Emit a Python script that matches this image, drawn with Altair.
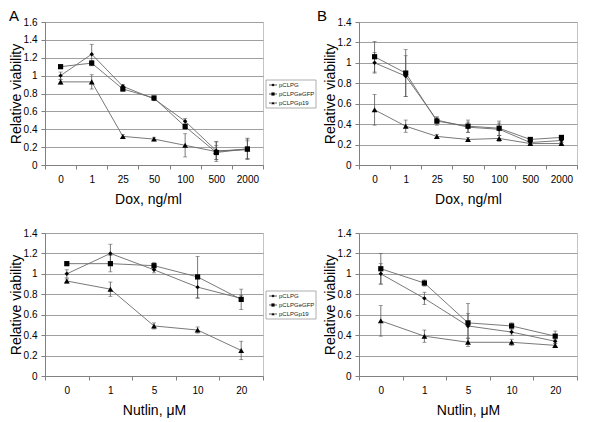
import altair as alt
import pandas as pd

series = ["pCLPG", "pCLPGeGFP", "pCLPGp19"]
shapes = ["diamond", "square", "triangle-up"]
marker_sizes = [20, 34, 30]

dox_doses = ["0", "1", "25", "50", "100", "500", "2000"]
nutlin_doses = ["0", "1", "5", "10", "20"]

yticks_16 = [0, 0.2, 0.4, 0.6, 0.8, 1.0, 1.2, 1.4, 1.6]
yticks_14 = [0, 0.2, 0.4, 0.6, 0.8, 1.0, 1.2, 1.4]

# Panel A (top left): Dox
a_pclpg = [1.00, 1.24, 0.88, 0.74, 0.49, 0.16, 0.17]
a_pclpg_err = [0.04, 0.11, 0.02, 0.02, 0.03, 0.10, 0.10]
a_egfp = [1.10, 1.14, 0.85, 0.75, 0.43, 0.14, 0.18]
a_egfp_err = [0.02, 0.03, 0.02, 0.02, 0.03, 0.08, 0.12]
a_p19 = [0.93, 0.93, 0.32, 0.29, 0.22, 0.15, 0.18]
a_p19_err = [0.025, 0.08, 0.02, 0.02, 0.13, 0.11, 0.11]

# Panel B (top right): Dox
b_pclpg = [1.00, 0.87, 0.44, 0.37, 0.35, 0.22, 0.24]
b_pclpg_err = [0.10, 0.20, 0.03, 0.05, 0.06, 0.02, 0.02]
b_egfp = [1.06, 0.90, 0.43, 0.38, 0.36, 0.25, 0.27]
b_egfp_err = [0.15, 0.23, 0.04, 0.06, 0.07, 0.02, 0.02]
b_p19 = [0.54, 0.38, 0.28, 0.25, 0.26, 0.21, 0.21]
b_p19_err = [0.15, 0.06, 0.02, 0.02, 0.03, 0.01, 0.01]

# Panel C (bottom left): Nutlin
c_pclpg = [1.00, 1.20, 1.04, 0.87, 0.76]
c_pclpg_err = [0.04, 0.09, 0.03, 0.11, 0.03]
c_egfp = [1.10, 1.10, 1.08, 0.97, 0.75]
c_egfp_err = [0.02, 0.08, 0.03, 0.20, 0.10]
c_p19 = [0.93, 0.85, 0.49, 0.45, 0.25]
c_p19_err = [0.02, 0.07, 0.03, 0.03, 0.09]

# Panel D (bottom right): Nutlin
d_pclpg = [1.00, 0.76, 0.49, 0.43, 0.34]
d_pclpg_err = [0.10, 0.06, 0.12, 0.03, 0.02]
d_egfp = [1.05, 0.91, 0.52, 0.49, 0.39]
d_egfp_err = [0.15, 0.03, 0.19, 0.03, 0.05]
d_p19 = [0.54, 0.39, 0.33, 0.33, 0.30]
d_p19_err = [0.15, 0.06, 0.04, 0.03, 0.02]

FONT = "Liberation Sans"
W, H = 218, 143


def make_df(doses, vals, errs):
    rows = []
    for s, v, e in zip(series, vals, errs):
        for i, (d, vv, ee) in enumerate(zip(doses, v, e)):
            rows.append(dict(series=s, dose=d, idx=i, value=vv, lo=vv - ee, hi=vv + ee))
    return pd.DataFrame(rows)


def panel(df, doses, xtitle, ymax, yticks, letter, letter_x, show_legend, xtitle_shift=0):
    xaxis = alt.Axis(labelAngle=0, tickBand="extent", titleX=W / 2 + xtitle_shift,
                     titleY=34, titleBaseline="middle")
    x = alt.X("dose:O", sort=doses, title=xtitle,
              scale=alt.Scale(type="band", paddingInner=0, paddingOuter=0), axis=xaxis)
    yscale = alt.Scale(domain=[0, ymax], nice=False)
    yaxis = alt.Axis(values=yticks, format="~g", titleX=-29, titleBaseline="middle")

    def Y(field):
        return alt.Y(field, title="Relative viability", scale=yscale, axis=yaxis)

    shape = alt.Shape("series:N", scale=alt.Scale(domain=series, range=shapes), legend=None)
    size = alt.Size("series:N", scale=alt.Scale(domain=series, range=marker_sizes), legend=None)

    base = alt.Chart(df)
    err = base.mark_rule(color="#555", strokeWidth=0.8).encode(x=x, y=Y("lo:Q"), y2="hi:Q")
    cap_lo = base.mark_tick(color="#555", size=4, thickness=0.8, orient="horizontal").encode(x=x, y=Y("lo:Q"))
    cap_hi = base.mark_tick(color="#555", size=4, thickness=0.8, orient="horizontal").encode(x=x, y=Y("hi:Q"))
    lines = base.mark_line(color="#6a6a6a", strokeWidth=0.9).encode(
        x=x, y=Y("value:Q"), detail="series:N", order="idx:Q")
    pts = base.mark_point(filled=True, color="black", opacity=1).encode(
        x=x, y=Y("value:Q"), shape=shape, size=size)
    lab = alt.Chart(pd.DataFrame({"t": [letter]})).mark_text(
        align="left", baseline="top", fontSize=15, font=FONT, color="black"
    ).encode(x=alt.value(letter_x), y=alt.value(-13), text="t:N")

    main = alt.layer(err, cap_lo, cap_hi, lines, pts, lab)

    if not show_legend:
        return main.properties(width=W, height=H)

    leg_df = pd.DataFrame({"series": series, "row": [0, 1, 2]})
    ly = alt.Y("row:Q", scale=alt.Scale(domain=[0, 2], range=[63, 81]), axis=None)
    lbase = alt.Chart(leg_df)
    box = alt.Chart(pd.DataFrame({"k": [0]})).mark_rect(
        fill="white", stroke="#999", strokeWidth=0.8
    ).encode(x=alt.value(221), x2=alt.value(271), y=alt.value(58), y2=alt.value(86))
    lrule = lbase.mark_rule(color="#333", strokeWidth=0.8).encode(
        x=alt.value(224), x2=alt.value(232), y=ly)
    lsym = lbase.mark_point(filled=True, color="black", opacity=1).encode(
        x=alt.value(228), y=ly, shape=shape, size=alt.value(10))
    ltxt = lbase.mark_text(align="left", baseline="middle", fontSize=6, font=FONT, color="#222").encode(
        x=alt.value(234), y=ly, text="series:N")
    legend = alt.layer(box, lrule, lsym, ltxt)

    return alt.layer(main, legend).resolve_scale(y="independent").properties(width=W, height=H)


pA = panel(make_df(dox_doses, [a_pclpg, a_egfp, a_p19], [a_pclpg_err, a_egfp_err, a_p19_err]),
           dox_doses, "Dox, ng/ml", 1.6, yticks_16, "A", -36, True, xtitle_shift=-6)
pB = panel(make_df(dox_doses, [b_pclpg, b_egfp, b_p19], [b_pclpg_err, b_egfp_err, b_p19_err]),
           dox_doses, "Dox, ng/ml", 1.4, yticks_14, "B", -42, False)
pC = panel(make_df(nutlin_doses, [c_pclpg, c_egfp, c_p19], [c_pclpg_err, c_egfp_err, c_p19_err]),
           nutlin_doses, "Nutlin, \u03bcM", 1.4, yticks_14, "", -36, True)
pD = panel(make_df(nutlin_doses, [d_pclpg, d_egfp, d_p19], [d_pclpg_err, d_egfp_err, d_p19_err]),
           nutlin_doses, "Nutlin, \u03bcM", 1.4, yticks_14, "", -42, False)

chart = alt.concat(
    pA, pB, pC, pD, columns=2, spacing={"row": 68, "column": 96}, bounds="flush"
).properties(
    padding={"left": 0, "top": 0, "right": 5, "bottom": 5}, background="white"
).configure_view(
    stroke="#c4c4c4", strokeWidth=1
).configure_axis(
    labelFont=FONT, titleFont=FONT, labelFontSize=10, titleFontSize=14,
    titleFontWeight="normal", labelColor="black", titleColor="black",
    domainColor="#808080", tickColor="#808080", tickSize=4,
    gridColor="#a0a0a0", gridWidth=1
).configure_axisX(
    grid=False, labelPadding=5
).configure_axisY(
    labelPadding=4
)

chart.save("out.html", embed_options={"renderer": "svg", "actions": False})
